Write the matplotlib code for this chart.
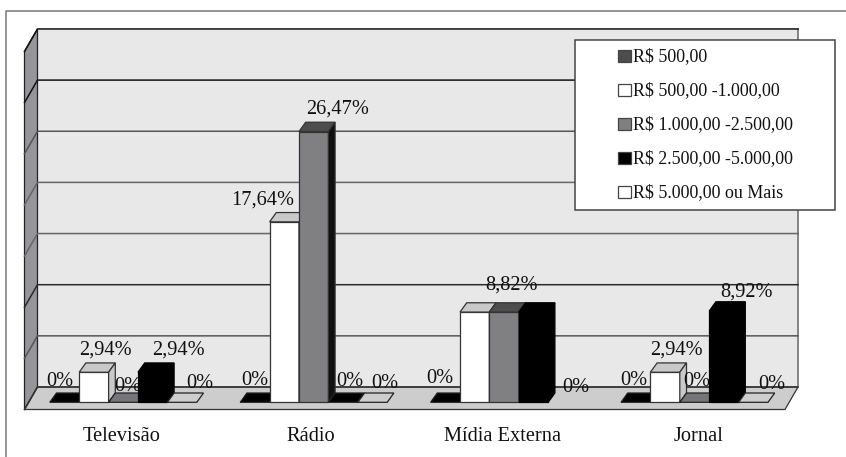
import matplotlib
matplotlib.use("Agg")
import matplotlib.pyplot as plt
from matplotlib.patches import Polygon, Rectangle

# ======================
# data
# ======================
CATEGORIES = ["Televisão", "Rádio", "Mídia Externa", "Jornal"]
SERIES = ["R$ 500,00", "R$ 500,00 -1.000,00", "R$ 1.000,00 -2.500,00",
          "R$ 2.500,00 -5.000,00", "R$ 5.000,00 ou Mais"]
VAL_500 = [0, 0, 0, 0]
VAL_1000 = [2.94, 17.64, 8.82, 2.94]
VAL_2500 = [0, 26.47, 8.82, 0]
VAL_5000 = [2.94, 0, 8.82, 8.92]
VAL_MORE = [0, 0, None, 0]
LBL_500 = ["0%", "0%", "0%", "0%"]
LBL_1000 = ["2,94%", "17,64%", None, "2,94%"]
LBL_2500 = ["0%", "26,47%", "8,82%", "0%"]
LBL_5000 = ["2,94%", "0%", None, "8,92%"]
LBL_MORE = ["0%", "0%", "0%", "0%"]
VALUES = [VAL_500, VAL_1000, VAL_2500, VAL_5000, VAL_MORE]
LABELS = [LBL_500, LBL_1000, LBL_2500, LBL_5000, LBL_MORE]
GRID_VALUES = [0, 5, 10, 15, 20, 25, 30, 35]

# ======================
# style / layout (pixels)
# ======================
W, H = 846, 457
CENTER0 = 123.3      # px of first category centre
PITCH = 190.4        # px per category
Y_BASE = 402.3       # px of front baseline
PX_PER_PCT = 10.23
BAR_W = 29.4
DEPTH_X, DEPTH_Y = 6.7, 9.3
WALL_L, WALL_R, WALL_BOTTOM = 37.5, 798.0, 387.0
FLOOR_DX, FLOOR_DY = 13.0, 22.5

FRONT = ["#4d4d4d", "white", "#808083", "black", "white"]
TOP = ["black", "#c9c9c9", "#4d4d4d", "black", "#cdcdcd"]
SIDE = ["black", "#c9c9c9", "#101010", "black", "#cdcdcd"]
FLAT = ["black", "#c9c9c9", "#76767a", "black", "#cdcdcd"]
EDGE = ["black", "#333333", "#333333", "black", "#333333"]
SWATCH = ["#4d4d4d", "white", "#808083", "black", "white"]
GRID_COLORS = ["#333333", "#555555", "#2a2a2a", "#666666", "#666666", "#555555", "#111111", "#111111"]

# offsets of data labels from the bar top, one row per series
LABEL_DX = [[-5, 0, -5, -2], [12, -22, 0, 11], [4.5, 23.5, 7, 2], [26, 7, 0, 23], [17.5, 12, 13, 19]]
LABEL_DY = [[23, 24, 26, 24], [24, 24, 0, 24], [18, 24.5, 29, 23], [24, 23, 0, 21], [21, 21, 17, 20]]
CAT_SHIFT = [-2, -3, -2, 4]
TEXT_DROP = 2

FONT_DATA = 14.7
FONT_LEGEND = 12.9


def dx(px):
    return px / PITCH


def dy(px):
    return px / PX_PER_PCT


def pt(x, y):
    """pixel position in the picture -> data coords"""
    return (x - CENTER0) / PITCH, (Y_BASE - y) / PX_PER_PCT


plt.rcParams["font.family"] = ["Liberation Serif", "DejaVu Serif"]
fig = plt.figure(figsize=(W / 100, H / 100), dpi=100)
ax = fig.add_axes([0, 0, 1, 1])
ax.set_xlim(pt(0, 0)[0], pt(W, 0)[0])
ax.set_ylim(pt(0, H)[1], pt(0, 0)[1])
ax.axis("off")

# outer frame
ax.add_line(plt.Line2D(*zip(pt(6, H), pt(6, 10.5), pt(W, 10.5)), color="#777777", lw=1.1, zorder=1))

# walls and floor
wall_top = WALL_BOTTOM - GRID_VALUES[-1] * PX_PER_PCT
ax.add_patch(Polygon([pt(WALL_L, WALL_BOTTOM), pt(WALL_L, wall_top), pt(WALL_R, wall_top), pt(WALL_R, WALL_BOTTOM)],
                     facecolor="#e8e8e8", edgecolor="none", zorder=1))
ax.add_patch(Polygon([pt(WALL_L - FLOOR_DX, WALL_BOTTOM + FLOOR_DY), pt(WALL_L - FLOOR_DX, wall_top + FLOOR_DY),
                      pt(WALL_L, wall_top), pt(WALL_L, WALL_BOTTOM)],
                     facecolor="#96969a", edgecolor="#222222", lw=0.9, zorder=1))
ax.add_patch(Polygon([pt(WALL_L - FLOOR_DX, WALL_BOTTOM + FLOOR_DY), pt(WALL_L, WALL_BOTTOM), pt(WALL_R, WALL_BOTTOM),
                      pt(WALL_R - FLOOR_DX, WALL_BOTTOM + FLOOR_DY)],
                     facecolor="#cdcdcd", edgecolor="#333333", lw=0.9, zorder=1))
ax.plot(*zip(pt(WALL_R, wall_top), pt(WALL_R, WALL_BOTTOM)), color="#666666", lw=1.1, zorder=2)

for g, c in zip(GRID_VALUES, GRID_COLORS):
    y = WALL_BOTTOM - g * PX_PER_PCT
    ax.plot(*zip(pt(WALL_L - FLOOR_DX, y + FLOOR_DY), pt(WALL_L, y), pt(WALL_R, y)), color=c, lw=1.1, zorder=2)

# bars, series after series so the next one covers the text of the last
for s, vals in enumerate(VALUES):
    z = 5 + s
    offs = (s - 2) * BAR_W / PITCH
    for i, v in enumerate(vals):
        x = i + offs
        hw = BAR_W / PITCH / 2
        h = v if v else 0
        ddx, ddy = dx(DEPTH_X), dy(DEPTH_Y)
        if v is not None:
            top = [(x - hw, h), (x + hw, h), (x + hw + ddx, h + ddy), (x - hw + ddx, h + ddy)]
            if h > 0:
                ax.bar(x, h, width=BAR_W / PITCH, color=FRONT[s], edgecolor=EDGE[s], linewidth=0.9, zorder=z)
                ax.add_patch(Polygon(top, facecolor=TOP[s], edgecolor=EDGE[s], lw=0.9, zorder=z))
                ax.add_patch(Polygon([(x + hw, 0), (x + hw + ddx, ddy), (x + hw + ddx, h + ddy), (x + hw, h)],
                                     facecolor=SIDE[s], edgecolor=EDGE[s], lw=0.9, zorder=z))
            else:
                ax.add_patch(Polygon(top, facecolor=FLAT[s], edgecolor="#222222", lw=0.9, zorder=z))
        txt = LABELS[s][i]
        if txt:
            ax.annotate(txt, (x, h), xytext=(LABEL_DX[s][i], LABEL_DY[s][i] - TEXT_DROP), textcoords="offset pixels",
                        ha="center", va="center", fontsize=FONT_DATA, color="#111111", zorder=z + 0.5)

# category labels
for i, name in enumerate(CATEGORIES):
    ax.annotate(name, (i, 0), xytext=(CAT_SHIFT[i], -32 - TEXT_DROP), textcoords="offset pixels",
                ha="center", va="center", fontsize=FONT_DATA, color="#111111", zorder=20)

# legend box
lx0, ly0 = pt(574.5, 209.5)
lx1, ly1 = pt(834.5, 39.5)
ax.add_patch(Rectangle((lx0, ly0), lx1 - lx0, ly1 - ly0, facecolor="white", edgecolor="#444444", lw=1.1, zorder=20))
for k, name in enumerate(SERIES):
    yc = 56 + k * 34
    sx0, sy0 = pt(618, yc + 6)
    ax.add_patch(Rectangle((sx0, sy0), dx(13), dy(12), facecolor=SWATCH[k], edgecolor="#444444", lw=0.9, zorder=21))
    tx, ty = pt(633, yc + 1)
    ax.text(tx, ty, name, ha="left", va="center", fontsize=FONT_LEGEND, color="#111111", zorder=21)

plt.savefig("out.png", dpi=100)
